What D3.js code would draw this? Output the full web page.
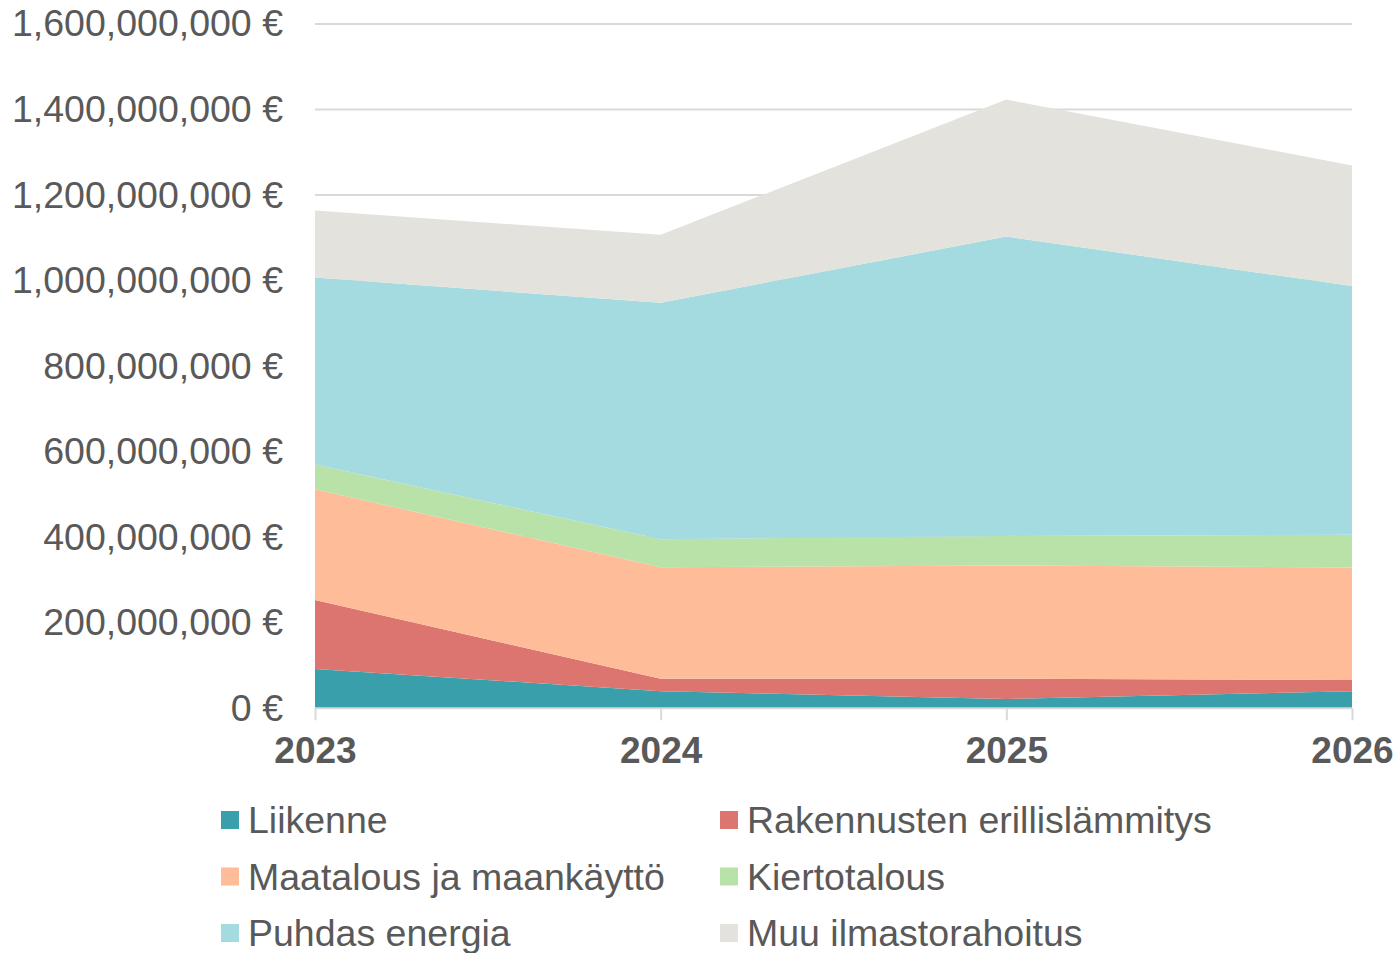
<!DOCTYPE html>
<html>
<head>
<meta charset="utf-8">
<script src="https://cdn.jsdelivr.net/npm/d3@7"></script>
<style>
  body { margin: 0; background: #fff; }
  text { font-family: "Liberation Sans", Arial, sans-serif; fill: #595959; }
</style>
</head>
<body>
<div class="chart"></div>
<script>
const years = ['2023', '2024', '2025', '2026'];
const seriesNames = [
  'Liikenne',
  'Rakennusten erillislämmitys',
  'Maatalous ja maankäyttö',
  'Kiertotalous',
  'Puhdas energia',
  'Muu ilmastorahoitus'
];
// values in millions of euros
const liikenne = [92, 40, 22, 40];
const rakennukset = [161, 29, 47, 26];
const maatalous = [259, 261, 265, 263];
const kiertotalous = [58, 65, 69, 77];
const puhdasEnergia = [437, 553, 700, 581];
const muu = [157, 159, 320, 282];
const yTicks = [0, 200e6, 400e6, 600e6, 800e6, 1000e6, 1200e6, 1400e6, 1600e6];

const colors = ['#39a0ab', '#dc756f', '#febd98', '#b9e2a8', '#a4dbe0', '#e3e2dd'];

const seriesValues = [liikenne, rakennukset, maatalous, kiertotalous, puhdasEnergia, muu];
const table = years.map((y, i) => {
  const row = { year: y };
  seriesNames.forEach((name, s) => { row[name] = seriesValues[s][i] * 1e6; });
  return row;
});

const chartWidth = 1397;
const chartHeight = 953;

const svg = d3.select('.chart')
  .append('svg')
  .attr('width', chartWidth)
  .attr('height', chartHeight);

const xScale = d3.scalePoint()
  .domain(years)
  .range([315, 1352]);

const yScale = d3.scaleLinear()
  .domain([0, 1600e6])
  .range([708.3, 23.9]);

// gridlines
svg.append('g')
  .selectAll('line')
  .data(yTicks.slice(1))
  .enter()
  .append('line')
  .attr('x1', 315)
  .attr('x2', 1352)
  .attr('y1', d => yScale(d))
  .attr('y2', d => yScale(d))
  .attr('stroke', '#d9d9d9')
  .attr('stroke-width', 2);

const stack = d3.stack().keys(seriesNames);
const stacked = stack(table);

const area = d3.area()
  .x(d => xScale(d.data.year))
  .y0(d => yScale(d[0]))
  .y1(d => yScale(d[1]));

svg.append('g')
  .selectAll('path')
  .data(stacked)
  .enter()
  .append('path')
  .attr('d', area)
  .attr('fill', (d, i) => colors[i]);

// x axis
const xAxis = d3.axisBottom(xScale).tickSize(12).tickPadding(16);
const gx = svg.append('g')
  .attr('transform', `translate(0, ${yScale(0)})`)
  .call(xAxis);
gx.select('.domain').attr('stroke', '#d9d9d9').attr('stroke-width', 2).attr('d', 'M315,0H1352');
gx.selectAll('.tick line').attr('stroke', '#d9d9d9').attr('stroke-width', 2);
gx.selectAll('.tick text')
  .attr('font-size', '37px')
  .attr('font-weight', 'bold')
  .attr('font-family', '"Liberation Sans", Arial, sans-serif')
  .style('fill', '#595959');

// y axis labels
const yAxis = d3.axisLeft(yScale)
  .tickValues(yTicks)
  .tickSize(0)
  .tickPadding(32)
  .tickFormat(d => d3.format(',')(d) + ' €');
const gy = svg.append('g')
  .attr('transform', 'translate(315, 0)')
  .call(yAxis);
gy.select('.domain').remove();
gy.selectAll('.tick text')
  .attr('font-size', '37.5px')
  .attr('font-family', '"Liberation Sans", Arial, sans-serif')
  .style('fill', '#595959');

// legend
const legend = svg.append('g');
const legendItems = legend.selectAll('g')
  .data(seriesNames)
  .enter()
  .append('g')
  .attr('transform', (d, i) => `translate(${i % 2 === 0 ? 221 : 720}, ${820 + Math.floor(i / 2) * 56.5})`);
legendItems.append('rect')
  .attr('x', 0)
  .attr('y', -9)
  .attr('width', 18)
  .attr('height', 18)
  .attr('fill', (d, i) => colors[i]);
legendItems.append('text')
  .attr('x', 27)
  .attr('y', 0)
  .attr('dy', '0.35em')
  .attr('font-size', '37.5px')
  .text(d => d);
</script>
</body>
</html>
